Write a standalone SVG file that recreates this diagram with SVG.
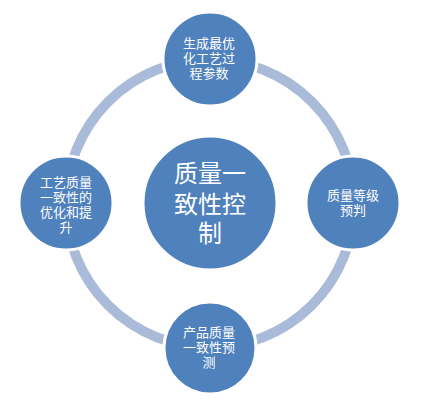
<svg xmlns="http://www.w3.org/2000/svg" width="422" height="404" viewBox="0 0 422 404">
<style>
.node{fill:#4F81BD;stroke:#FFFFFF;stroke-width:3}
.t{font-family:"Liberation Sans","Noto Sans CJK SC",sans-serif;fill:#FFFFFF;text-anchor:middle;font-size:13px}
.big{font-size:24px}
</style>
<rect width="422" height="404" fill="#FFFFFF"/>
<g id="connectors">
<circle cx="210" cy="203.5" r="144" fill="none" stroke="#A9BBD9" stroke-width="10"/>
</g>
<g id="center">
<circle class="node" cx="210" cy="203" r="67"/>
<text class="t big" x="210" y="182">质量一</text>
<text class="t big" x="210" y="213">致性控</text>
<text class="t big" x="210" y="242">制</text>
</g>
<g id="top">
<circle class="node" cx="210" cy="59" r="47"/>
<text class="t" x="209" y="48">生成最优</text>
<text class="t" x="209" y="63">化工艺过</text>
<text class="t" x="209" y="78">程参数</text>
</g>
<g id="right">
<circle class="node" cx="353" cy="203" r="47"/>
<text class="t" x="353" y="200">质量等级</text>
<text class="t" x="353" y="215">预判</text>
</g>
<g id="bottom">
<circle class="node" cx="210" cy="348" r="46"/>
<text class="t" x="209" y="337">产品质量</text>
<text class="t" x="209" y="352">一致性预</text>
<text class="t" x="209" y="367">测</text>
</g>
<g id="left">
<circle class="node" cx="66" cy="203" r="47"/>
<text class="t" x="66" y="187">工艺质量</text>
<text class="t" x="66" y="202">一致性的</text>
<text class="t" x="66" y="217">优化和提</text>
<text class="t" x="66" y="232">升</text>
</g>
</svg>
